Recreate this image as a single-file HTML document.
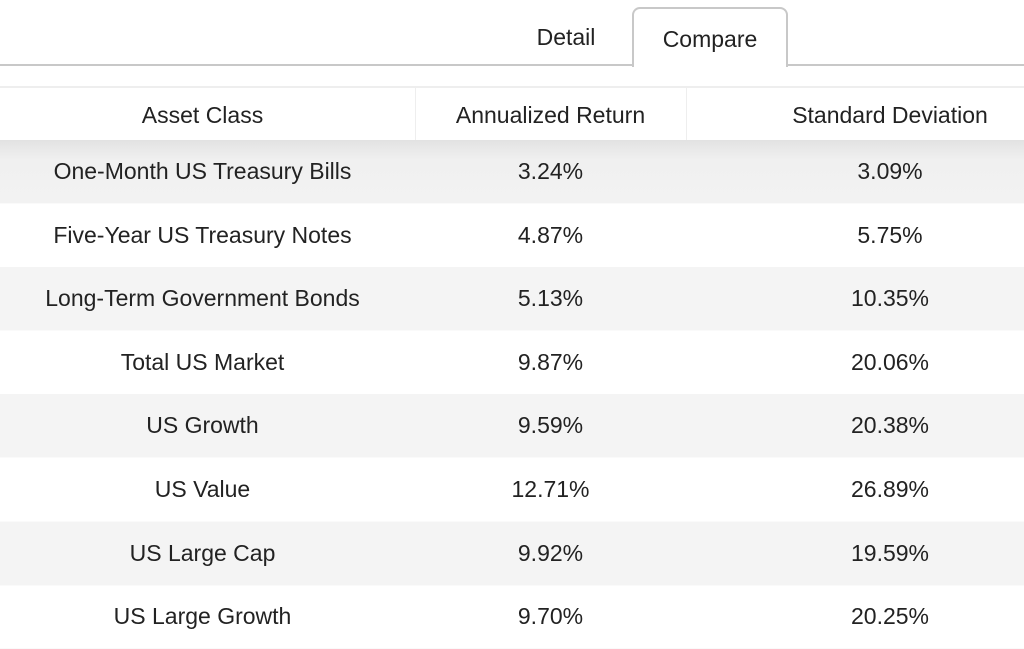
<!DOCTYPE html>
<html><head><meta charset="utf-8"><style>
body{margin:0;width:1024px;height:647px;overflow:hidden;background:#fff;font-family:"Liberation Sans",sans-serif;color:#222;position:relative}
.tabline{position:absolute;left:0;top:64px;width:1024px;height:2px;background:#c8c8c8}
.tab{position:absolute;top:7px;height:58px;font-size:23px;line-height:60px;text-align:center}
#compare{left:632px;width:152px;border:2px solid #c8c8c8;border-bottom:none;border-radius:8px 8px 0 0;background:#fff;height:58px;z-index:2}
#detail{left:516px;width:100px}
.row{position:absolute;left:0;width:1024px;height:63px;font-size:23px}
.row div{position:absolute;top:0;height:63px;line-height:63px;text-align:center}
.c1{left:0;width:405px}.c2{left:415px;width:271px}.c3{left:686px;width:408px}
.hdr{top:86px;height:54px;border-top:2px solid #eee}
.hdr div{height:54px;line-height:54px}
.vl{position:absolute;top:88px;width:1px;height:52px;background:#eee}
.odd{background:#f4f4f4}
.first{background:linear-gradient(#e2e2e2,#f0f0f0 20px,#f2f2f2)}
.row{border-bottom:1px solid #fafafa}
</style></head><body>
<div class="tabline"></div>
<div class="tab" id="detail">Detail</div>
<div class="tab" id="compare">Compare</div>
<div class="row hdr">
<div class="c1">Asset Class</div>
<div class="c2">Annualized Return</div>
<div class="c3">Standard Deviation</div>
</div>
<div class="vl" style="left:415px"></div>
<div class="vl" style="left:686px"></div>
<div id="body"></div>
<script>
const assets=["One-Month US Treasury Bills","Five-Year US Treasury Notes","Long-Term Government Bonds","Total US Market","US Growth","US Value","US Large Cap","US Large Growth"];
const returns=["3.24%","4.87%","5.13%","9.87%","9.59%","12.71%","9.92%","9.70%"];
const stdevs=["3.09%","5.75%","10.35%","20.06%","20.38%","26.89%","19.59%","20.25%"];
const b=document.getElementById('body');
assets.forEach((a,i)=>{
 const r=document.createElement('div');
 r.className='row'+(i%2===0?' odd':'')+(i===0?' first':'');
 r.style.top=(140+i*63.6)+'px';
 
 
 [[a,'c1','asset-class-cell'],[returns[i],'c2','annualized-return-cell'],[stdevs[i],'c3','standard-deviation-cell']].forEach(([t,c,n])=>{
  const d=document.createElement('div');d.className=c;d.textContent=t;
  
  
  r.appendChild(d);
 });
 b.appendChild(r);
});
</script>
</body></html>
